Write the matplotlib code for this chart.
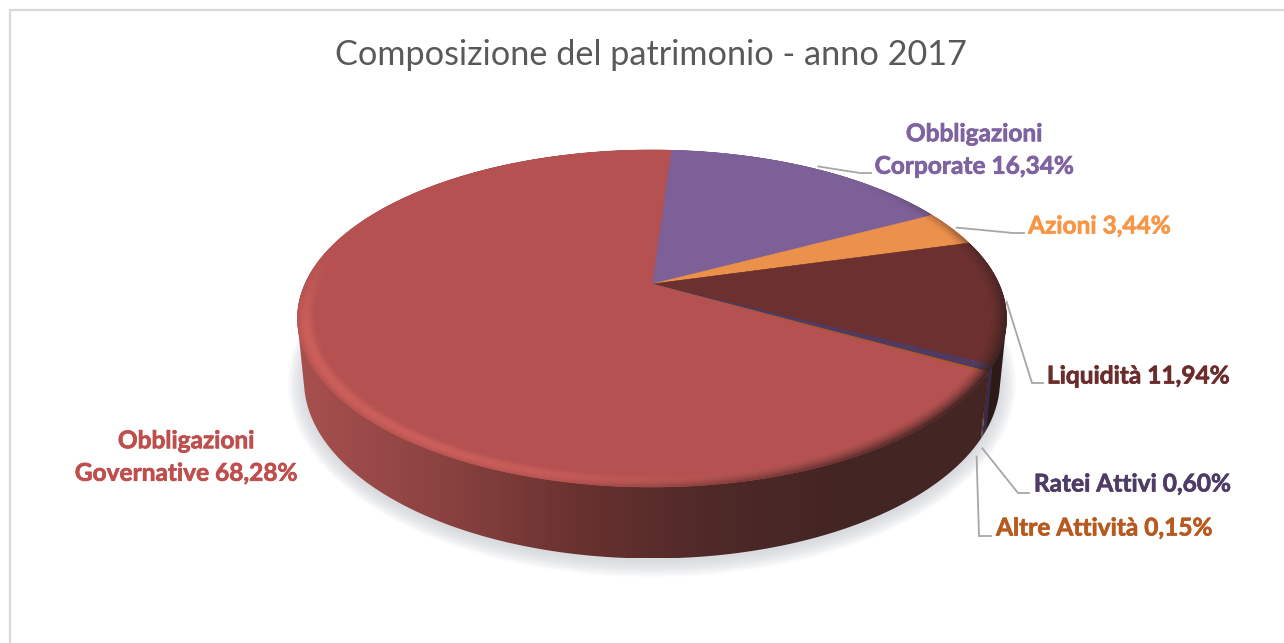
import numpy as np
import matplotlib
matplotlib.use("Agg")
import matplotlib.pyplot as plt
import matplotlib.patheffects as pe
from matplotlib.colors import LinearSegmentedColormap, to_rgb
from matplotlib.collections import PolyCollection
from matplotlib.patches import Ellipse, Polygon

plt.rcParams["font.family"] = ["Lato", "DejaVu Sans"]

title = "Composizione del patrimonio - anno 2017"

# slices, clockwise from the start angle
names = ["Obbligazioni\nCorporate", "Azioni", "Liquidità", "Ratei Attivi", "Altre Attività", "Obbligazioni\nGovernative"]
values = [16.34, 3.44, 11.94, 0.60, 0.15, 68.28]
value_labels = ["16,34%", "3,44%", "11,94%", "0,60%", "0,15%", "68,28%"]

top_colors = ["#7D6098", "#EB914C", "#6B302F", "#4F3B62", "#B75C22", "#B55251"]
text_colors = ["#7F63A1", "#F79646", "#6A2D2C", "#4F3C66", "#B65A1F", "#BE4F4D"]
wall_stops = [
    ["#4A3A5E", "#4A3A5E"],
    ["#8A5530", "#8A5530"],
    ["#2C1917", "#2E1A18"],
    ["#3A2C4A", "#3A2C4A"],
    ["#5A3018", "#5A3018"],
    ["#A85050", "#8C4341", "#6A3230", "#4E2928", "#432524", "#432524"],
]

START = 3.8
CX, APEX_Y = 652.0, 284.0
A, B, P = 347.0, 161.4, 0.2047
ELL_Y, ELL_RX, ELL_RY = 318.0, 354.5, 168.5
BOT_Y, BOT_RX, BOT_RY = 380.0, 348.0, 178.0


def top_point(theta, r=1.0):
    # perspective view of the disc: the centre sits above the middle of the ellipse
    t = np.radians(theta)
    u, v = r * np.sin(t), -r * np.cos(t)
    d = 1 - P * v
    return CX + A * u / d, APEX_Y + B * v / d


def bottom_point(theta):
    x, y = top_point(theta)
    return CX + (x - CX) * BOT_RX / ELL_RX, BOT_Y + (y - ELL_Y) * BOT_RY / ELL_RY


def arc(func, a, b, **kw):
    th = np.linspace(a, b, max(int(abs(b - a) * 3), 3))
    return np.column_stack(func(th, **kw))


def hull(points):
    # monotone chain, gives the silhouette of a wall piece
    pts = sorted(set(map(tuple, np.round(points, 3))))

    def half(seq):
        out = []
        for p in seq:
            while len(out) > 1 and ((out[-1][0] - out[-2][0]) * (p[1] - out[-2][1])
                                    - (out[-1][1] - out[-2][1]) * (p[0] - out[-2][0])) <= 0:
                out.pop()
            out.append(p)
        return out[:-1]

    return np.array(half(pts) + half(pts[::-1]))


def rim_tint(theta, base, r):
    # bevel: highlight on the front left, fading into shadow on the front right
    base = np.array(to_rgb(base))
    s = np.sin(np.radians(theta))
    c = -np.cos(np.radians(theta))
    front = np.clip(c + 0.2, 0, 1)
    depth = (r - 0.955) / 0.045
    glow = np.clip(-s * 0.9 + 0.55, 0, 1) * np.clip(front * 2.2, 0, 1)
    dark = np.clip(s * 1.0 + 0.25, 0, 1)
    dark *= np.clip(c + 0.75, 0, 1)
    light_col = np.array(to_rgb("#D4645F"))
    dark_col = np.array(to_rgb("#3E2322"))
    col = base + (light_col - base) * glow * np.sin(np.pi * min(depth * 0.95, 1)) * 0.75
    col = col + (dark_col - col) * dark * depth ** 1.6
    return col


fractions = np.array(values) / sum(values)
sweeps = fractions * 360
edges = START + np.concatenate([[0], np.cumsum(sweeps)])

fig = plt.figure(figsize=(12.84, 6.43), dpi=100)
ax = fig.add_axes([0, 0, 1, 1])
ax.set_xlim(0, 1284)
ax.set_ylim(643, 0)
ax.axis("off")

# chart frame, only the left and top edges show
frame_x = [9.5, 9.5, 1284]
frame_y = [643, 9.5, 9.5]
ax.plot(frame_x, frame_y, color="#D9D9D9", lw=1.6, zorder=1)

ax.text(651, 55, title, color="#595959", fontsize=24.7, ha="center", va="center", zorder=10)

# soft ground shadow
for i in range(14):
    grow = 16 - i * 1.25
    ax.add_patch(Ellipse((CX, BOT_Y + 3), 2 * (BOT_RX + grow), 2 * (BOT_RY + grow),
                         fc="#C9CED3", ec="none", alpha=0.07, zorder=2))

# side walls, each with a left-to-right gradient clipped to the slice
for i in range(len(values)):
    a, b = edges[i], edges[i + 1]
    poly = hull(np.vstack([arc(top_point, a, b), arc(bottom_point, b, a)]))
    patch = Polygon(poly, closed=True, fc="none", ec="none", zorder=3)
    ax.add_patch(patch)
    cmap = LinearSegmentedColormap.from_list(f"wall{i}", wall_stops[i])
    left, right = poly[:, 0].min(), poly[:, 0].max()
    grad = np.linspace(0, 1, 512).reshape(1, -1)
    im = ax.imshow(grad, cmap=cmap, extent=[left, right + 0.5, poly[:, 1].max(), poly[:, 1].min()],
                   aspect="auto", zorder=3, interpolation="bilinear")
    im.set_clip_path(patch)
ax.set_xlim(0, 1284)
ax.set_ylim(643, 0)

# top faces
for i in range(len(values)):
    a, b = edges[i], edges[i + 1]
    face = np.vstack([[top_point(a, r=0.0)], arc(top_point, a, b)])
    ax.add_patch(Polygon(face, closed=True, fc=top_colors[i], ec=top_colors[i], lw=0.4, zorder=4))

# bevelled rim built from small quads
radii = np.linspace(0.955, 1.0, 12)
quads, quad_cols = [], []
for i in range(len(values)):
    a, b = edges[i], edges[i + 1]
    steps = max(int((b - a) * 2), 2)
    ths = np.linspace(a, b, steps + 1)
    for t0, t1 in zip(ths[:-1], ths[1:]):
        for r0, r1 in zip(radii[:-1], radii[1:]):
            quads.append([top_point(t0, r0), top_point(t1, r0), top_point(t1, r1), top_point(t0, r1)])
            quad_cols.append(rim_tint((t0 + t1) / 2, top_colors[i], (r0 + r1) / 2))
ax.add_collection(PolyCollection(quads, facecolors=quad_cols, edgecolors=quad_cols, linewidths=0.4, zorder=5))

# leader lines run from the slice middle on the rim to the label
mids = (edges[:-1] + edges[1:]) / 2
leader_nudge = [(5, -2), (5, -1), (2, 1), (-2, 15), (-5, 19), None]
leader_mid = [(860, 173), (1013, 233), (1032, 383), (1018, 493), (979, 536), None]
leader_end = [(871, 173), (1024, 233), (1043, 383), (1029, 493), (991, 536), None]
use_bottom = [False, False, False, True, True, False]
for i in range(len(values)):
    if leader_mid[i] is None:
        continue
    start = bottom_point(mids[i]) if use_bottom[i] else top_point(mids[i])
    xs = [start[0] + leader_nudge[i][0], leader_mid[i][0], leader_end[i][0]]
    ys = [start[1] + leader_nudge[i][1], leader_mid[i][1], leader_end[i][1]]
    ax.plot(xs, ys, color="#A6A6A6", lw=1.3, zorder=6, solid_joinstyle="miter")

label_pos = [(974, 150), (1099, 226), (1138, 376), (1132, 484), (1104, 528), (186, 457)]
for i in range(len(values)):
    txt = ax.text(label_pos[i][0], label_pos[i][1], f"{names[i]} {value_labels[i]}", color=text_colors[i],
                  fontsize=17.6, fontweight="bold", ha="center", va="center", linespacing=1.5, zorder=10)
    txt.set_path_effects([pe.withStroke(linewidth=0.5, foreground=text_colors[i])])

fig.savefig("out.png", dpi=100)
